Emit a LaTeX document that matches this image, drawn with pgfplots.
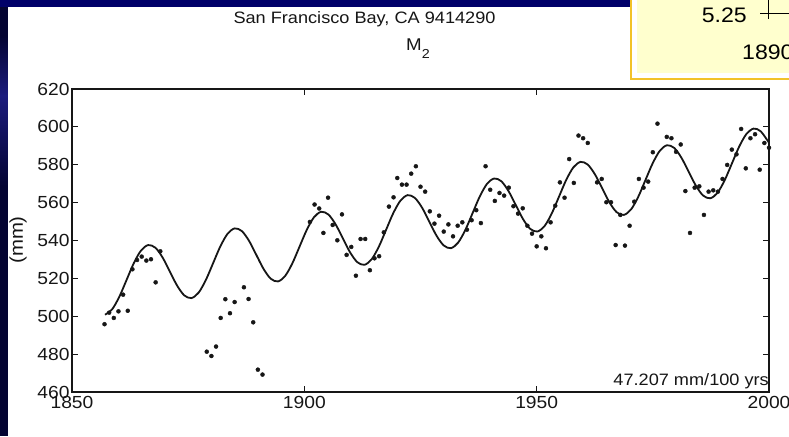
\documentclass[border=0pt]{standalone}
\usepackage{pgfplots}
\pgfplotsset{compat=1.18}
\usepackage{fontspec}
\setmainfont{Liberation Sans}[FakeStretch=1.1]
\definecolor{navy}{RGB}{0,0,105}
\definecolor{navydark}{RGB}{4,4,50}
\definecolor{navylight}{RGB}{28,28,125}
\definecolor{paleyellow}{RGB}{255,255,206}
\definecolor{gold}{RGB}{242,194,40}
\definecolor{ink}{RGB}{22,22,22}

\pgfplotstableread{
year val
1857 495.8
1858 501.9
1859 499.1
1860 502.6
1861 511.4
1862 502.9
1863 524.8
1864 529.7
1865 531.5
1866 529.4
1867 530.1
1868 517.9
1869 534.3
1879 481.3
1880 479.0
1881 484.0
1882 499.1
1883 509.0
1884 501.6
1885 507.5
1887 515.3
1888 509.1
1889 496.8
1890 471.8
1891 469.2
1901.2 549.8
1902.2 559.0
1903.2 556.9
1904.1 544.0
1905.1 562.6
1906.1 548.2
1907.1 540.1
1908.1 553.8
1909.1 532.4
1910.1 536.6
1911.1 521.4
1912.1 540.8
1913.1 540.8
1914.1 524.3
1915.1 530.6
1916.1 531.7
1917.1 544.3
1918.2 557.9
1919.2 562.8
1920.0 573.0
1921.0 569.5
1922.0 569.5
1923.0 575.3
1924.0 579.2
1925.0 568.4
1926.0 565.8
1927.0 555.4
1928.0 548.9
1929.0 553.1
1930.0 544.7
1931.0 548.5
1932.0 542.2
1933.0 547.8
1934.0 549.6
1935.0 545.7
1936.0 550.7
1937.0 556.0
1938.0 549.2
1939.0 579.2
1940.0 566.8
1941.0 560.9
1942.0 565.1
1943.0 563.7
1944.0 567.9
1945.0 558.1
1946.0 554.2
1947.0 557.0
1948.0 547.8
1949.0 543.6
1950.0 536.9
1951.0 542.2
1952.0 535.9
1953.0 549.6
1954.0 558.4
1955.0 570.7
1956.0 562.6
1957.0 583.0
1958.0 570.4
1959.0 595.4
1960.0 594.0
1961.0 591.5
1963.0 570.7
1964.0 572.5
1965.0 560.2
1966.0 560.2
1967.0 537.6
1968.0 553.5
1969.0 537.3
1970.0 547.8
1971.0 560.5
1972.0 572.5
1973.0 567.9
1974.0 571.1
1975.0 586.6
1976.0 601.7
1978.0 594.7
1979.0 594.0
1980.0 586.8
1981.0 590.7
1982.0 566.1
1983.0 544.0
1984.0 567.9
1985.0 568.6
1986.0 553.5
1987.0 565.8
1988.0 566.5
1989.0 565.8
1990.0 572.5
1991.0 579.9
1992.0 588.0
1993.0 585.5
1994.0 598.9
1995.0 578.1
1996.0 594.0
1997.0 596.1
1998.0 577.4
1999.0 591.5
2000.0 589.0
}\obs

\pgfplotstableread{
year fit
1857.10 500.81
1858.65 503.71
1860.20 510.37
1861.75 519.21
1863.30 528.04
1864.85 534.70
1866.40 537.60
1867.96 536.16
1869.51 530.97
1871.06 523.60
1872.61 516.23
1874.16 511.03
1875.71 509.59
1877.26 512.50
1878.81 519.16
1880.36 527.99
1881.91 536.82
1883.46 543.48
1885.01 546.39
1886.57 544.95
1888.12 539.75
1889.67 532.38
1891.22 525.01
1892.77 519.82
1894.32 518.38
1895.87 521.28
1897.42 527.94
1898.97 536.77
1900.52 545.60
1902.07 552.27
1903.62 555.17
1905.17 553.73
1906.73 548.53
1908.28 541.16
1909.83 533.80
1911.38 528.60
1912.93 527.16
1914.48 530.06
1916.03 536.72
1917.58 545.56
1919.13 554.39
1920.68 561.05
1922.23 563.95
1923.78 562.51
1925.34 557.32
1926.89 549.95
1928.44 542.58
1929.99 537.38
1931.54 535.94
1933.09 538.85
1934.64 545.51
1936.19 554.34
1937.74 563.17
1939.29 569.83
1940.84 572.74
1942.39 571.30
1943.94 566.10
1945.50 558.73
1947.05 551.36
1948.60 546.16
1950.15 544.73
1951.70 547.63
1953.25 554.29
1954.80 563.12
1956.35 571.96
1957.90 578.62
1959.45 581.52
1961.00 580.08
1962.55 574.88
1964.11 567.52
1965.66 560.15
1967.21 554.95
1968.76 553.51
1970.31 556.41
1971.86 563.08
1973.41 571.91
1974.96 580.74
1976.51 587.40
1978.06 590.30
1979.61 588.86
1981.16 583.67
1982.71 576.30
1984.27 568.93
1985.82 563.73
1987.37 562.29
1988.92 565.20
1990.47 571.86
1992.02 580.69
1993.57 589.52
1995.12 596.18
1996.67 599.09
1998.22 597.65
2000.00 591.60
}\fit

\begin{document}
\begin{tikzpicture}[x=1pt,y=1pt]
\useasboundingbox (0,0) rectangle (789,436);
% slide background
\fill[navy] (0,0) rectangle (789,436);
\fill[navydark] (0,0) rectangle (8,429);
\shade[top color=navydark, bottom color=navylight] (0,340) rectangle (8,400);
\shade[top color=navylight, bottom color=navydark] (0,250) rectangle (8,340);
\fill[white] (8,0) rectangle (789,429);
% yellow call-out box (cut off at the top right)
\fill[white] (631,357) rectangle (789,436);
\fill[paleyellow] (637,363) rectangle (789,436);
\draw[gold, line width=1.6pt] (631,437) -- (631,357) -- (790,357);
\node[anchor=east, inner sep=0pt, font=\fontsize{21}{21}\selectfont, text=black] at (747,421) {5.25};
\draw[black, line width=0.6pt] (760,423) -- (790,423);
\draw[black, line width=0.6pt] (768,417) -- (768,437);
\node[anchor=west, inner sep=0pt, font=\fontsize{21}{21}\selectfont, text=black] at (742,384) {1890};
% titles
\node[font=\fontsize{16.5}{16.5}\selectfont, text=ink] at (364.5,417) {San Francisco Bay, CA 9414290};
\node[anchor=base west, inner sep=0pt, font=\fontsize{17}{17}\selectfont, text=ink] at (406,385) {M\raisebox{-8pt}{\fontsize{13}{13}\selectfont 2}};
\node[rotate=90, font=\fontsize{18.5}{18.5}\selectfont, text=ink] at (18,196) {(mm)};
\begin{axis}[
  at={(72pt,44pt)}, anchor=south west,
  scale only axis, width=697pt, height=303pt,
  xmin=1850, xmax=2000, ymin=460, ymax=620,
  xtick={1850,1900,1950,2000},
  ytick={460,480,500,520,540,560,580,600,620},
  tick align=inside, major tick length=6pt,
  axis line style={ink, line width=1.3pt},
  every tick/.style={ink, line width=1pt},
  tick label style={font=\fontsize{17.5}{17.5}\selectfont, text=ink},
  yticklabel style={xshift=1pt},
  /pgf/number format/assume math mode=true,
  /pgf/number format/1000 sep={},
  xticklabel style={yshift=-0.5pt},
]
\addplot[ink, line width=1.8pt, smooth] table[x=year, y=fit] {\fit};
\addplot[only marks, mark=*, mark size=2pt, ink] table[x=year, y=val] {\obs};
\node[anchor=east, inner sep=0pt, font=\fontsize{16.5}{16.5}\selectfont, text=ink] at (axis cs:2000,465.8) {47.207 mm/100 yrs};
\end{axis}
\end{tikzpicture}
\end{document}
